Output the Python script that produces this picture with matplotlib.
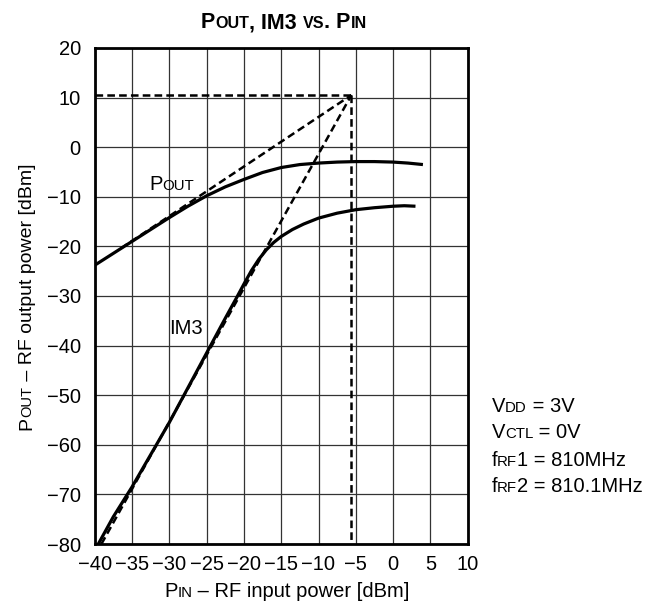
import matplotlib
matplotlib.use("Agg")
import matplotlib.pyplot as plt
from matplotlib.transforms import IdentityTransform

plt.rcParams.update({
    "font.family": ["Liberation Sans", "DejaVu Sans"],
    "font.size": 14.5,
    "lines.scale_dashes": False,
})

# ── Data ──────────────────────────────────────────────────────────────────
pin_pout = [-40, -37.5, -35, -32.5, -30, -27.5, -25, -22.5, -20, -17.5, -15,
            -12.5, -10, -7.5, -5, -2.5, 0, 2, 4]
pout = [-23.8, -21.4, -19.0, -16.6, -14.2, -11.9, -9.8, -8.0, -6.5, -5.1, -4.1,
        -3.5, -3.2, -3.0, -2.9, -2.9, -3.0, -3.2, -3.5]

pin_im3 = [-39.7, -37.5, -35, -32.5, -30, -27.5, -25, -22.5, -21, -20, -19,
           -18, -17, -16, -15, -13.5, -12, -10, -7.5, -5, -2.5, 0, 1.5, 3]
im3 = [-80.5, -74.5, -68.5, -62.0, -55.5, -48.5, -41.5, -34.5, -30.4, -27.6,
       -24.9, -22.6, -20.7, -19.2, -18.0, -16.6, -15.5, -14.3, -13.3, -12.6,
       -12.2, -11.9, -11.8, -11.9]

# intercept construction lines
ip3_x, ip3_y = -5.6, 10.5
pout_ext = ([-36.5, ip3_x], [-20.4, ip3_y])
im3_ext = ([-39.1, ip3_x], [-80.0, ip3_y])
hline = ([-40, ip3_x], [ip3_y, ip3_y])
vline = ([ip3_x, ip3_x], [ip3_y, -80])

xticks = list(range(-40, 11, 5))
yticks = list(range(-80, 21, 10))

W, H = 668, 612
fig = plt.figure(figsize=(W / 100, H / 100), dpi=100)
ax = fig.add_axes([94.7 / W, 1 - 544 / H, (467.7 - 94.7) / W, (544 - 48) / H])

ax.set_xlim(-40, 10)
ax.set_ylim(-80, 20)
ax.set_xticks(xticks)
ax.set_yticks(yticks)
ax.set_xticklabels([str(t).replace("-", "\u2212") for t in xticks])
ax.set_yticklabels([str(t).replace("-", "\u2212") for t in yticks])
ax.tick_params(axis="both", length=0, labelsize=14.5)
ax.tick_params(axis="y", pad=10)
ax.tick_params(axis="x", pad=8)
ax.grid(True, color="0.2", lw=0.9)
ax.set_axisbelow(True)
for s in ax.spines.values():
    s.set_linewidth(2.0)

ax.plot(pin_pout, pout, color="black", lw=2.3, solid_capstyle="butt",
        solid_joinstyle="round", zorder=4)
ax.plot(pin_im3, im3, color="black", lw=2.3, solid_capstyle="butt",
        solid_joinstyle="round", zorder=4)
for xs, ys in (pout_ext, im3_ext, hline, vline):
    ax.plot(xs, ys, color="black", lw=1.8, dashes=(5.5, 3), zorder=5,
            clip_on=False)

# ── rich text helper (small caps-like subscripts) ─────────────────────────
renderer = fig.canvas.get_renderer()


def rich(x, y, parts, ha="center", rotation=0, weight="normal"):
    # x, y are display pixels (origin bottom-left); y is the baseline
    widths = []
    for s, size in parts:
        t = fig.text(0, 0, s, fontsize=size, weight=weight)
        widths.append(t.get_window_extent(renderer).width)
        t.remove()
    total = sum(widths)
    pos = -total / 2 if ha == "center" else 0
    for (s, size), w in zip(parts, widths):
        if rotation == 90:
            px, py = x, y + pos
        else:
            px, py = x + pos, y
        fig.text(px, py, s, fontsize=size, weight=weight, ha="left",
                 va="baseline", rotation=rotation, rotation_mode="anchor",
                 transform=IdentityTransform())
        pos += w


BIG, SMALL = 14.5, 10.8

rich(284, H - 28, [("P", 15.5), ("OUT", 11.6), (", IM3 ", 15.5), ("VS", 11.6),
                   (". P", 15.5), ("IN", 11.6)], weight="bold")
rich(287, H - 597, [("P", BIG), ("IN", SMALL), (" \u2013 RF input power [dBm]", BIG)])
rich(31.5, H - 297, [("P", 14), ("OUT", 10.5),
                     (" \u2013 RF output power [dBm]", 14)], rotation=90)

notes = [
    [("V", BIG), ("DD", SMALL), (" = 3V", BIG)],
    [("V", BIG), ("CTL", SMALL), (" = 0V", BIG)],
    [("f", BIG), ("RF", SMALL), ("1 = 810MHz", BIG)],
    [("f", BIG), ("RF", SMALL), ("2 = 810.1MHz", BIG)],
]
for i, parts in enumerate(notes):
    rich(491.5, H - (411.5 + 27 * i), parts, ha="left")

# curve labels
lx, ly = ax.transData.transform((-29.7, -8.6))
rich(lx, ly, [("P", BIG), ("OUT", SMALL)])
lx, ly = ax.transData.transform((-27.8, -37.6))
rich(lx, ly, [("IM3", BIG)])

fig.savefig("out.png", dpi=100)
